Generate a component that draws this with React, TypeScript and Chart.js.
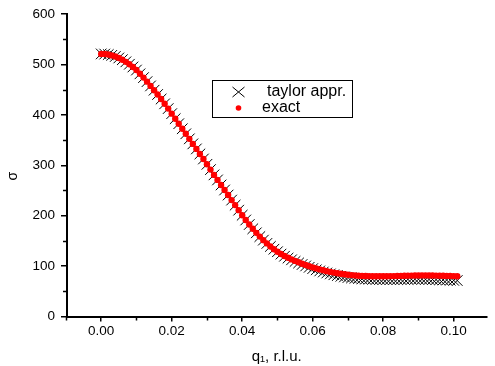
import React, { useEffect, useRef } from 'react';
import { Chart, registerables } from 'chart.js';

Chart.register(...registerables);

// q1 values (r.l.u.)
const q = [
  0.000, 0.001, 0.002, 0.003, 0.004, 0.005, 0.006, 0.007, 0.008, 0.009,
  0.010, 0.011, 0.012, 0.013, 0.014, 0.015, 0.016, 0.017, 0.018, 0.019,
  0.020, 0.021, 0.022, 0.023, 0.024, 0.025, 0.026, 0.027, 0.028, 0.029,
  0.030, 0.031, 0.032, 0.033, 0.034, 0.035, 0.036, 0.037, 0.038, 0.039,
  0.040, 0.041, 0.042, 0.043, 0.044, 0.045, 0.046, 0.047, 0.048, 0.049,
  0.050, 0.051, 0.052, 0.053, 0.054, 0.055, 0.056, 0.057, 0.058, 0.059,
  0.060, 0.061, 0.062, 0.063, 0.064, 0.065, 0.066, 0.067, 0.068, 0.069,
  0.070, 0.071, 0.072, 0.073, 0.074, 0.075, 0.076, 0.077, 0.078, 0.079,
  0.080, 0.081, 0.082, 0.083, 0.084, 0.085, 0.086, 0.087, 0.088, 0.089,
  0.090, 0.091, 0.092, 0.093, 0.094, 0.095, 0.096, 0.097, 0.098, 0.099,
  0.100, 0.101,
];

// exact sigma
const exact = [
  521, 520.7, 519.7, 518.1, 515.9, 513, 509.5, 505.3, 500.5, 495.1,
  489, 481.5, 474, 466, 457.5, 449, 440.5, 431.5, 422, 412.5,
  402.5, 392.5, 382.5, 372.5, 362.5, 352.5, 342.5, 332.5, 322.5, 312.5,
  302, 291.5, 281, 271, 261, 251, 241, 231, 221, 211,
  201, 191.5, 182.5, 174, 166, 158.5, 151.5, 145, 139, 133.5,
  128.5, 124, 120, 116.5, 113.3, 110.3, 107.5, 104.8, 102.2, 99.8,
  97.5, 95.4, 93.5, 91.7, 90, 88.5, 87.1, 85.8, 84.7, 83.7,
  82.8, 82.1, 81.5, 81, 80.6, 80.3, 80.1, 80, 79.9, 79.9,
  79.9, 80, 80.1, 80.2, 80.4, 80.6, 80.8, 81, 81.2, 81.3,
  81.4, 81.5, 81.5, 81.4, 81.3, 81.2, 81, 80.8, 80.6, 80.4,
  80.2, 80,
];

// taylor approximation sigma
const taylor = [
  521, 520.7, 519.7, 518.1, 515.9, 513, 509.5, 505.3, 500.5, 495.1,
  489, 481.5, 474, 466, 457.5, 449, 440.5, 431.5, 422, 412.5,
  402.5, 392.5, 382.5, 372.5, 362.5, 352.5, 342.5, 332.5, 322.5, 312.5,
  302, 291.5, 281, 271, 261, 251, 241, 231, 221, 211,
  201, 191.5, 182.5, 174, 166, 158.5, 151.5, 145, 139, 133.5,
  128.5, 123.8, 119.6, 115.9, 112.5, 109.3, 106.2, 103.2, 100.3, 97.6,
  95, 92.6, 90.4, 88.3, 86.3, 84.5, 82.8, 81.2, 79.8, 78.5,
  77.3, 76.5, 75.8, 75.2, 74.7, 74.3, 74, 73.8, 73.6, 73.5,
  73.4, 73.4, 73.4, 73.4, 73.5, 73.6, 73.7, 73.8, 73.9, 73.9,
  73.9, 73.9, 73.8, 73.6, 73.4, 73.2, 72.9, 72.6, 72.3, 72,
  71.7, 71.4,
];

const xMajorTicks = [0, 0.02, 0.04, 0.06, 0.08, 0.1];
const xMinorTicks = [-0.01, 0.01, 0.03, 0.05, 0.07, 0.09];
const yMinorTicks = [50, 150, 250, 350, 450, 550];
const legendLabels = ['taylor appr.', 'exact'];
const xTitle = 'q\u2081, r.l.u.';
const yTitle = '\u03c3';

const FONT = '"Liberation Sans", Arial, Helvetica, sans-serif';

const decorPlugin = {
  id: 'decor',
  afterDraw(chart: any) {
    const ctx = chart.ctx as CanvasRenderingContext2D;
    const xs = chart.scales.x;
    const ys = chart.scales.y;
    const { left, top, bottom } = chart.chartArea;
    ctx.save();
    // minor ticks
    ctx.strokeStyle = '#000';
    ctx.lineWidth = 1.5;
    ctx.beginPath();
    xMinorTicks.forEach((v) => {
      const px = Math.round(xs.getPixelForValue(v)) + 0.5;
      ctx.moveTo(px, bottom);
      ctx.lineTo(px, bottom + 4);
    });
    yMinorTicks.forEach((v) => {
      const py = Math.round(ys.getPixelForValue(v)) + 0.5;
      ctx.moveTo(left, py);
      ctx.lineTo(left - 4, py);
    });
    ctx.stroke();

    // y axis title
    ctx.save();
    ctx.translate(13, (top + bottom) / 2 + 11);
    ctx.rotate(-Math.PI / 2);
    ctx.fillStyle = '#000';
    ctx.font = `14px ${FONT}`;
    ctx.textAlign = 'center';
    ctx.textBaseline = 'middle';
    ctx.fillText(yTitle, 0, 0);
    ctx.restore();

    // legend box
    const bx = 212.5, by = 80.5, bw = 140, bh = 37;
    ctx.lineWidth = 1;
    ctx.strokeStyle = '#000';
    ctx.strokeRect(bx, by, bw, bh);
    // X marker
    const mx = 238.5, my1 = 92, my2 = 108;
    ctx.beginPath();
    ctx.moveTo(mx - 6, my1 - 5);
    ctx.lineTo(mx + 6, my1 + 5);
    ctx.moveTo(mx + 6, my1 - 5);
    ctx.lineTo(mx - 6, my1 + 5);
    ctx.stroke();
    // red dot
    ctx.fillStyle = '#ff0000';
    ctx.beginPath();
    ctx.arc(mx, my2, 2.8, 0, Math.PI * 2);
    ctx.fill();
    // texts
    ctx.fillStyle = '#000';
    ctx.font = `16px ${FONT}`;
    ctx.textBaseline = 'middle';
    ctx.textAlign = 'left';
    ctx.fillText(legendLabels[0], 267, my1);
    ctx.fillText(legendLabels[1], 262, my2);
    ctx.restore();
  },
};

export default function App() {
  const canvasRef = useRef<HTMLCanvasElement | null>(null);

  useEffect(() => {
    const canvas = canvasRef.current;
    if (!canvas) return;
    const chart = new Chart(canvas, {
      type: 'scatter',
      data: {
        datasets: [
          {
            label: legendLabels[1],
            data: q.map((x, i) => ({ x, y: exact[i] })),
            pointStyle: 'circle',
            pointRadius: 3.2,
            backgroundColor: '#ff0000',
            borderColor: '#ff0000',
            borderWidth: 0,
            showLine: false,
            order: 1,
          },
          {
            label: legendLabels[0],
            data: q.map((x, i) => ({ x, y: taylor[i] })),
            pointStyle: 'crossRot',
            pointRadius: 7.5,
            backgroundColor: '#000',
            borderColor: '#000',
            borderWidth: 1,
            showLine: false,
            order: 2,
          },
        ],
      },
      options: {
        animation: false,
        responsive: false,
        layout: { padding: { top: 8, left: 0, right: 0, bottom: 0 } },
        plugins: {
          legend: { display: false },
          tooltip: { enabled: false },
        },
        scales: {
          x: {
            type: 'linear',
            min: -0.0097,
            max: 0.1093,
            afterBuildTicks: (s: any) => {
              s.ticks = xMajorTicks.map((v) => ({ value: v }));
            },
            afterFit: (s: any) => {
              s.height = 49.5;
            },
            grid: {
              drawOnChartArea: false,
              drawTicks: true,
              tickLength: 5,
              color: '#000',
              lineWidth: 1.5,
            },
            border: { display: true, color: '#000', width: 2 },
            ticks: {
              color: '#000',
              font: { family: FONT, size: 13.5 },
              padding: 2,
              maxRotation: 0,
              autoSkip: false,
              callback: (v: any) => Number(v).toFixed(2),
            },
            title: {
              display: true,
              text: xTitle,
              color: '#000',
              font: { family: FONT, size: 15 },
              padding: { top: 0, bottom: 0 },
            },
          },
          y: {
            type: 'linear',
            min: 0,
            max: 600,
            afterFit: (s: any) => {
              s.width = 67;
            },
            grid: {
              drawOnChartArea: false,
              drawTicks: true,
              tickLength: 6,
              color: '#000',
              lineWidth: 1.5,
            },
            border: { display: true, color: '#000', width: 2 },
            ticks: {
              stepSize: 100,
              color: '#000',
              font: { family: FONT, size: 13.5 },
              padding: 6,
              callback: (v: any) => String(v),
            },
            title: { display: false },
          },
        },
      },
      plugins: [decorPlugin],
    } as any);
    return () => chart.destroy();
  }, []);

  return (
    <div style={{ position: 'fixed', left: 0, top: 0, width: 495, height: 366, background: '#fff' }}>
      <canvas ref={canvasRef} width={495} height={366} style={{ display: 'block' }} />
    </div>
  );
}
